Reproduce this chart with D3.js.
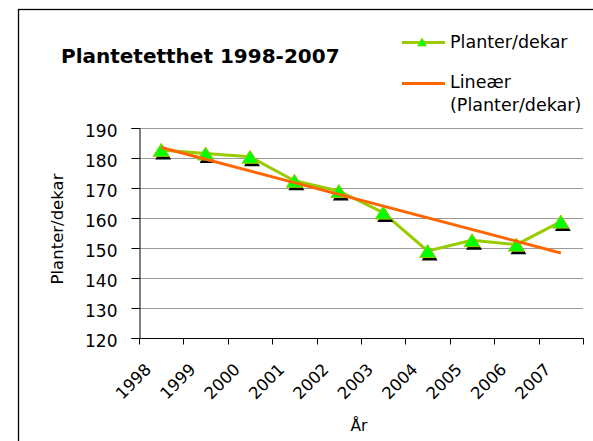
<!DOCTYPE html>
<html>
<head>
<meta charset="utf-8">
<script src="https://d3js.org/d3.v7.min.js"></script>
<style>
  html, body { margin: 0; padding: 0; background: #fff; }
  svg { display: block; font-family: "DejaVu Sans", Verdana, sans-serif; }
</style>
</head>
<body>
<div id="chart"></div>
<script>
// data
var years = ['1998', '1999', '2000', '2001', '2002', '2003', '2004', '2005', '2006', '2007'];
var planter = [182.7, 181.5, 180.4, 172.4, 169.0, 161.8, 149.0, 152.6, 151.1, 158.8];
var yTicks = [120, 130, 140, 150, 160, 170, 180, 190];

var width = 593, height = 441;
var svg = d3.select('#chart').append('svg')
    .attr('width', width)
    .attr('height', height);

// outer chart frame (runs off the right and bottom of the picture)
svg.append('rect')
    .attr('x', 18.5).attr('y', 9.5)
    .attr('width', 600).attr('height', 460)
    .attr('fill', 'none')
    .attr('stroke', '#000')
    .attr('stroke-width', 1.3);

var x = d3.scaleBand().domain(years).range([139, 583]);
var y = d3.scaleLinear().domain([120, 190]).range([338, 128]);

// gridlines
svg.append('g').selectAll('line')
    .data(yTicks)
    .enter().append('line')
    .attr('x1', 139).attr('x2', 583)
    .attr('y1', function(d){ return Math.round(y(d)) + 0.5; })
    .attr('y2', function(d){ return Math.round(y(d)) + 0.5; })
    .attr('stroke', '#999')
    .attr('stroke-width', 1);

// y axis
var yAxis = svg.append('g')
    .attr('transform', 'translate(139.5,0)')
    .call(d3.axisLeft(y).tickValues(yTicks).tickSize(8).tickPadding(14));
yAxis.selectAll('path, line').attr('stroke', '#000');
yAxis.selectAll('text')
    .attr('font-size', 17)
    .attr('font-family', '"DejaVu Sans", Verdana, sans-serif')
    .attr('fill', '#000')
    .attr('dy', '0.5em');

// x axis, tick marks between the categories
var xEdges = years.map(function(d){ return x(d); }).concat([x.range()[1]]);
var xAxis = svg.append('g').attr('transform', 'translate(0,338.5)');
xAxis.append('line')
    .attr('x1', 139).attr('x2', 583.5)
    .attr('stroke', '#000');
xAxis.selectAll('line.tick')
    .data(xEdges)
    .enter().append('line')
    .attr('class', 'tick')
    .attr('x1', function(d){ return Math.round(d) + 0.5; })
    .attr('x2', function(d){ return Math.round(d) + 0.5; })
    .attr('y1', 0).attr('y2', 6)
    .attr('stroke', '#000');
xAxis.selectAll('text')
    .data(years)
    .enter().append('text')
    .attr('transform', function(d){
        return 'translate(' + (x(d) + x.bandwidth() / 2 - 9) + ',32) rotate(-45)';
    })
    .attr('text-anchor', 'end')
    .attr('font-size', 16.5)
    .text(function(d){ return d; });

// series line
var cx = function(d, i){ return x(years[i]) + x.bandwidth() / 2; };
var line = d3.line()
    .x(cx)
    .y(function(d){ return y(d); });

svg.append('path')
    .datum(planter)
    .attr('d', line)
    .attr('fill', 'none')
    .attr('stroke', '#99cc00')
    .attr('stroke-width', 3)
    .attr('stroke-linejoin', 'round');

// triangle markers with a black shadow
function tri(px, py, w, h) {
    return 'M' + px + ',' + (py - h / 2) +
        'L' + (px + w / 2) + ',' + (py + h / 2) +
        'L' + (px - w / 2) + ',' + (py + h / 2) + 'Z';
}
var markers = svg.append('g');
markers.selectAll('path.shadow')
    .data(planter)
    .enter().append('path')
    .attr('class', 'shadow')
    .attr('d', function(d, i){ return tri(cx(d, i) + 2, y(d) + 3, 16, 13); })
    .attr('fill', '#000');
markers.selectAll('path.mark')
    .data(planter)
    .enter().append('path')
    .attr('class', 'mark')
    .attr('d', function(d, i){ return tri(cx(d, i), y(d), 16, 13); })
    .attr('fill', '#00ff00')
    .attr('stroke', '#99cc00')
    .attr('stroke-width', 1);

// linear trend (least squares over the series)
var xi = d3.range(planter.length);
var mx = d3.mean(xi), my = d3.mean(planter);
var slope = d3.sum(xi, function(i){ return (i - mx) * (planter[i] - my); }) /
            d3.sum(xi, function(i){ return (i - mx) * (i - mx); });
var trend = xi.map(function(i){ return my + slope * (i - mx); });
var ends = [trend[0], trend[trend.length - 1]];

svg.append('line')
    .attr('x1', cx(null, 0)).attr('y1', y(ends[0]))
    .attr('x2', cx(null, years.length - 1)).attr('y2', y(ends[1]))
    .attr('stroke', '#ff6600')
    .attr('stroke-width', 3);

// title
svg.append('text')
    .attr('x', 61).attr('y', 63)
    .attr('font-size', 20)
    .attr('font-weight', 'bold')
    .text('Plantetetthet 1998-2007');

// axis titles
svg.append('text')
    .attr('transform', 'translate(63,229) rotate(-90)')
    .attr('text-anchor', 'middle')
    .attr('font-size', 16.5)
    .text('Planter/dekar');

svg.append('text')
    .attr('x', 359).attr('y', 431)
    .attr('text-anchor', 'middle')
    .attr('font-size', 15.5)
    .text('År');

// legend
var legend = svg.append('g').attr('font-size', 17.5);
legend.append('line')
    .attr('x1', 402).attr('x2', 445).attr('y1', 42.5).attr('y2', 42.5)
    .attr('stroke', '#99cc00').attr('stroke-width', 3);
legend.append('path')
    .attr('d', tri(422, 42, 9, 8))
    .attr('fill', '#00ff00')
    .attr('stroke', '#99cc00')
    .attr('stroke-width', 0.8);
legend.append('text').attr('x', 450).attr('y', 48).text('Planter/dekar');

legend.append('line')
    .attr('x1', 402).attr('x2', 445).attr('y1', 83.5).attr('y2', 83.5)
    .attr('stroke', '#ff6600').attr('stroke-width', 3);
legend.append('text').attr('x', 450).attr('y', 88).text('Lineær');
legend.append('text').attr('x', 450).attr('y', 111).text('(Planter/dekar)');
</script>
</body>
</html>
